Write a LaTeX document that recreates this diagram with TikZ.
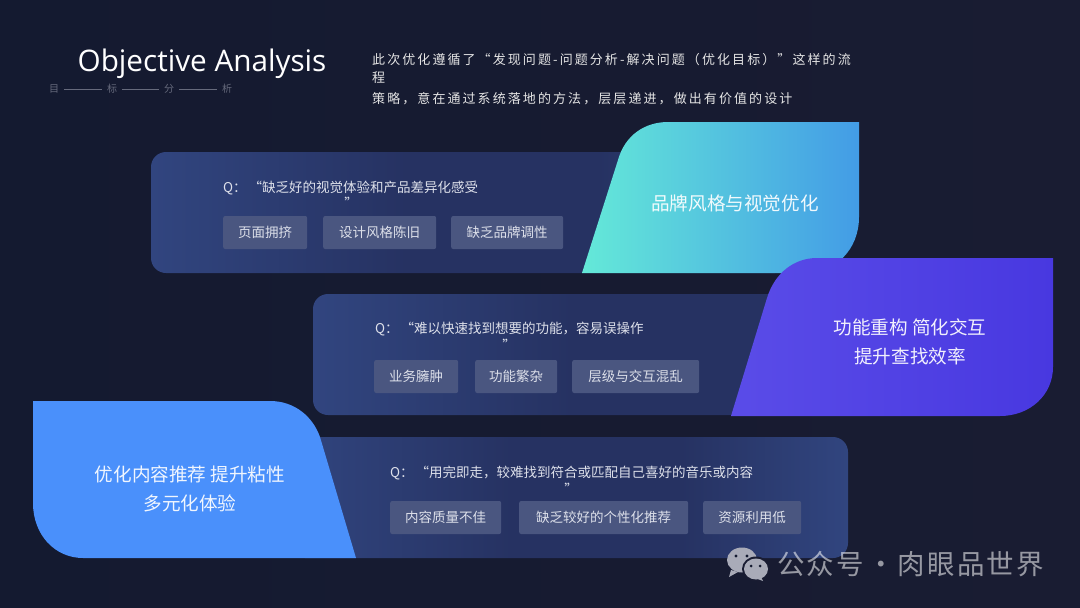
\documentclass[tikz,border=0pt]{standalone}
\usepackage{fontspec}
\setmainfont{Noto Sans CJK SC}
\newfontfamily\titlefont{Open Sans}
\newfontfamily\widefont[LetterSpace=16]{Noto Sans CJK SC}
\newfontfamily\markfont[LetterSpace=8]{Noto Sans CJK SC}
\newcommand{\fsize}[1]{\fontsize{#1}{#1}\selectfont}
\definecolor{bgl}{HTML}{141A30}
\definecolor{bgr}{HTML}{191C32}
\definecolor{panela}{HTML}{31457F}
\definecolor{panelb}{HTML}{263262}
\definecolor{tagfill}{HTML}{4A5680}
\definecolor{qtext}{HTML}{DDE0EA}
\definecolor{sub}{HTML}{666A7C}
\definecolor{wechat}{HTML}{A9ABB8}
\definecolor{tealstart}{HTML}{64E9D8}
\definecolor{tealend}{HTML}{439CE6}
\definecolor{purplestart}{HTML}{5A4CE8}
\definecolor{purpleend}{HTML}{4838E0}
\definecolor{blockblue}{HTML}{4A90FB}
\pgfdeclarehorizontalshading{panelfade}{100bp}{color(0bp)=(panela); color(25bp)=(panela); color(45bp)=(panelb); color(60bp)=(panelb); color(75bp)=(panela); color(100bp)=(panela)}

\begin{document}
\begin{tikzpicture}[x=1pt, y=-1pt,
  panel/.style={shade, shading=panelfade, rounded corners=15pt},
  tagbox/.style={anchor=west, fill=tagfill, rounded corners=2pt, minimum height=33pt, inner sep=0pt, text=qtext, font=\fsize{13.5}},
  qline/.style={anchor=west, inner sep=0pt, text=qtext, font=\fsize{13.5}},
  endquote/.style={inner sep=0pt, text=qtext, font=\fsize{13.5}},
  bigtext/.style={align=center, inner sep=0pt, text=white, font=\fsize{18.6}, text opacity=0.92},
  desc/.style={anchor=west, inner sep=0pt, text=white!90!black, font=\widefont\fsize{13}},
  subchar/.style={inner sep=5pt, text=sub, font=\fsize{10}}]
  \useasboundingbox (0,0) rectangle (1080,608);
  % background
  \shade[left color=bgl, right color=bgr] (0,0) rectangle (1080,608);

  % heading
  \node[text=white, inner sep=0pt, font=\titlefont\fsize{29.7}] (title) at (202,64) {Objective Analysis};
  \node[subchar] (mu) at (54,89) {目};
  \node[subchar] (biao) at (112,89) {标};
  \node[subchar] (fen) at (169,89) {分};
  \node[subchar] (xi) at (227,89) {析};
  \draw[sub] (mu) -- (biao);
  \draw[sub] (biao) -- (fen);
  \draw[sub] (fen) -- (xi);
  \node[desc] (desca) at (372,60) {此次优化遵循了“发现问题-问题分析-解决问题（优化目标）”这样的流};
  \node[desc] (descb) at (372,78) {程};
  \node[desc] (descc) at (372,99) {策略，意在通过系统落地的方法，层层递进，做出有价值的设计};

  % first row: panel, then teal block on top
  \path[panel] (151,152) rectangle (790,273);
  \shade[left color=tealstart, right color=tealend]
    (582,273) -- (618,160) .. controls (625,135) and (645,122) .. (668,122)
    -- (859,122) -- (859,217) .. controls (859,250) and (835,273) .. (805,273) -- cycle;
  \node[qline] (qa) at (223,188) {Q：\hspace{2pt}“缺乏好的视觉体验和产品差异化感受};
  \node[endquote] (qaend) at (351,203) {”};
  \node[tagbox, minimum width=84pt] (taga) at (223,232.5) {页面拥挤};
  \node[tagbox, minimum width=113pt] (tagb) at (323,232.5) {设计风格陈旧};
  \node[tagbox, minimum width=112pt] (tagc) at (451,232.5) {缺乏品牌调性};
  \node[bigtext] (brand) at (735,203) {品牌风格与视觉优化};

  % second row
  \path[panel] (313,294) rectangle (960,415);
  \shade[left color=purplestart, right color=purpleend]
    (731,416) -- (767,298) .. controls (775,272) and (795,258) .. (817,258)
    -- (1053,258) -- (1053,367) .. controls (1053,395) and (1030,416) .. (1000,416) -- cycle;
  \node[qline] (qb) at (375,329) {Q：\hspace{2pt}“难以快速找到想要的功能，容易误操作};
  \node[endquote] (qbend) at (509,345) {”};
  \node[tagbox, minimum width=84pt] (tagd) at (374,376.5) {业务臃肿};
  \node[tagbox, minimum width=82pt] (tage) at (475,376.5) {功能繁杂};
  \node[tagbox, minimum width=127pt] (tagf) at (572,376.5) {层级与交互混乱};
  \node[bigtext] (func) at (910,342) {功能重构 简化交互\\[11pt]提升查找效率};

  % third row
  \path[panel] (290,437) rectangle (848,558);
  \fill[blockblue]
    (33,401) -- (270,401) .. controls (295,401) and (313,417) .. (320,437)
    -- (356,558) -- (83,558) .. controls (55,558) and (33,535) .. (33,503) -- cycle;
  \node[qline] (qc) at (390,473) {Q：\hspace{2pt}“用完即走，较难找到符合或匹配自己喜好的音乐或内容};
  \node[endquote] (qcend) at (571,489) {”};
  \node[tagbox, minimum width=111pt] (tagg) at (390,517.5) {内容质量不佳};
  \node[tagbox, minimum width=169pt] (tagh) at (519,517.5) {缺乏较好的个性化推荐};
  \node[tagbox, minimum width=98pt] (tagi) at (703,517.5) {资源利用低};
  \node[bigtext] (content) at (190,489) {优化内容推荐 提升粘性\\[11pt]多元化体验};

  % watermark
  \fill[wechat] (742,560) ellipse (15 and 12.5);
  \fill[wechat] (731,570) -- (729,577) -- (738,572) -- cycle;
  \fill[bgr] (756,569) ellipse (14 and 12.5);
  \fill[wechat] (756,569) ellipse (12 and 10.5);
  \fill[wechat] (761,577) -- (763,581) -- (755,578) -- cycle;
  \fill[bgl] (736,556) circle (1.7) (747,556) circle (1.7) (751,566) circle (1.5) (760,566) circle (1.5);
  \node[anchor=west, inner sep=0pt, text=white, text opacity=0.55, font=\markfont\fsize{27.5}] (mark) at (777,564) {公众号\hspace{3pt}·\hspace{3pt}肉眼品世界};
\end{tikzpicture}
\end{document}
